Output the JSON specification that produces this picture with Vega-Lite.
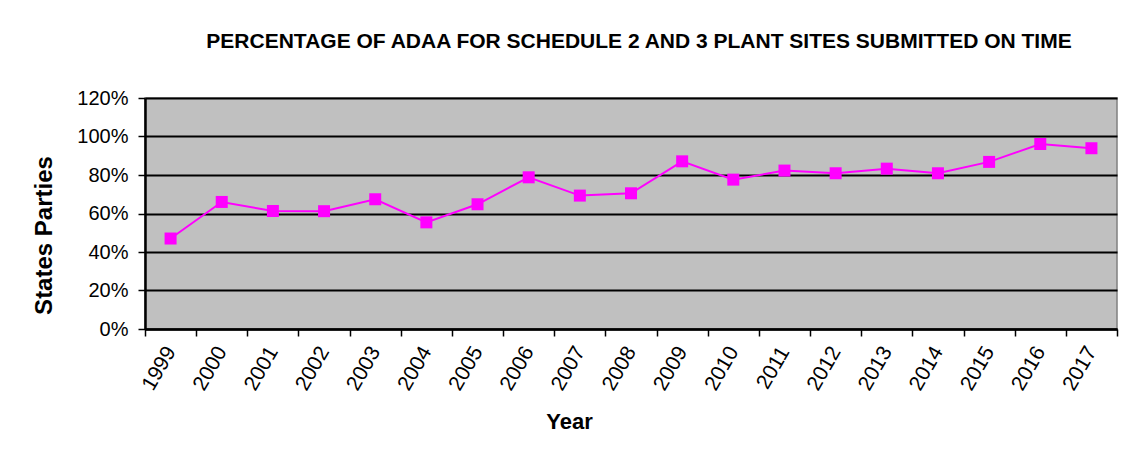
{
  "$schema": "https://vega.github.io/schema/vega-lite/v6.json",
  "width": 972,
  "height": 231,
  "autosize": {"type": "none"},
  "padding": {"left": 145, "top": 98, "right": 13, "bottom": 121},
  "background": "white",
  "title": {
    "text": "PERCENTAGE  OF ADAA FOR SCHEDULE  2 AND 3 PLANT SITES SUBMITTED ON TIME",
    "font": "Liberation Sans",
    "fontSize": 21,
    "fontWeight": "bold",
    "color": "black",
    "anchor": "middle",
    "frame": "group",
    "dx": 8,
    "offset": 36
  },
  "config": {
    "view": {"fill": "#C0C0C0", "stroke": "#808080", "strokeWidth": 1.5},
    "axis": {
      "labelFont": "Liberation Sans",
      "titleFont": "Liberation Sans",
      "labelColor": "black",
      "titleColor": "black",
      "domainColor": "black",
      "tickColor": "black"
    }
  },
  "data": {
    "values": [
      {"year": "1999", "pct": 0.47},
      {"year": "2000", "pct": 0.66},
      {"year": "2001", "pct": 0.613},
      {"year": "2002", "pct": 0.612},
      {"year": "2003", "pct": 0.674},
      {"year": "2004", "pct": 0.554},
      {"year": "2005", "pct": 0.648},
      {"year": "2006", "pct": 0.788},
      {"year": "2007", "pct": 0.693},
      {"year": "2008", "pct": 0.705},
      {"year": "2009", "pct": 0.871},
      {"year": "2010", "pct": 0.776},
      {"year": "2011", "pct": 0.823},
      {"year": "2012", "pct": 0.809},
      {"year": "2013", "pct": 0.833},
      {"year": "2014", "pct": 0.809},
      {"year": "2015", "pct": 0.868},
      {"year": "2016", "pct": 0.961},
      {"year": "2017", "pct": 0.939}
    ]
  },
  "encoding": {
    "x": {
      "field": "year",
      "type": "ordinal",
      "scale": {"type": "band", "paddingInner": 0, "paddingOuter": 0},
      "axis": {
        "title": "Year",
        "titleFontSize": 22,
        "titleFontWeight": "bold",
        "titleX": 424,
        "titleY": 92,
        "titleBaseline": "middle",
        "labelAngle": -60,
        "labelAlign": "right",
        "labelBaseline": "middle",
        "labelFontSize": 21,
        "labelPadding": 12,
        "tickBand": "extent",
        "tickSize": 7,
        "tickWidth": 1.5,
        "domainWidth": 2.5,
        "grid": false
      }
    },
    "y": {
      "field": "pct",
      "type": "quantitative",
      "scale": {"domain": [0, 1.2], "nice": false, "zero": true},
      "axis": {
        "title": "States Parties",
        "titleFontSize": 24,
        "titleFontWeight": "bold",
        "titleAngle": -90,
        "titleX": -101,
        "titleY": 137,
        "titleAlign": "center",
        "titleBaseline": "middle",
        "values": [0, 0.2, 0.4, 0.6, 0.8, 1.0, 1.2],
        "format": ".0%",
        "labelFontSize": 20,
        "labelPadding": 10,
        "tickSize": 7,
        "tickWidth": 1.5,
        "domainWidth": 2.5,
        "grid": true,
        "gridColor": "black",
        "gridWidth": 2
      }
    }
  },
  "layer": [
    {"mark": {"type": "line", "color": "#FF00FF", "strokeWidth": 2}},
    {"mark": {"type": "point", "shape": "square", "filled": true, "color": "#FF00FF", "size": 144, "opacity": 1}}
  ]
}
